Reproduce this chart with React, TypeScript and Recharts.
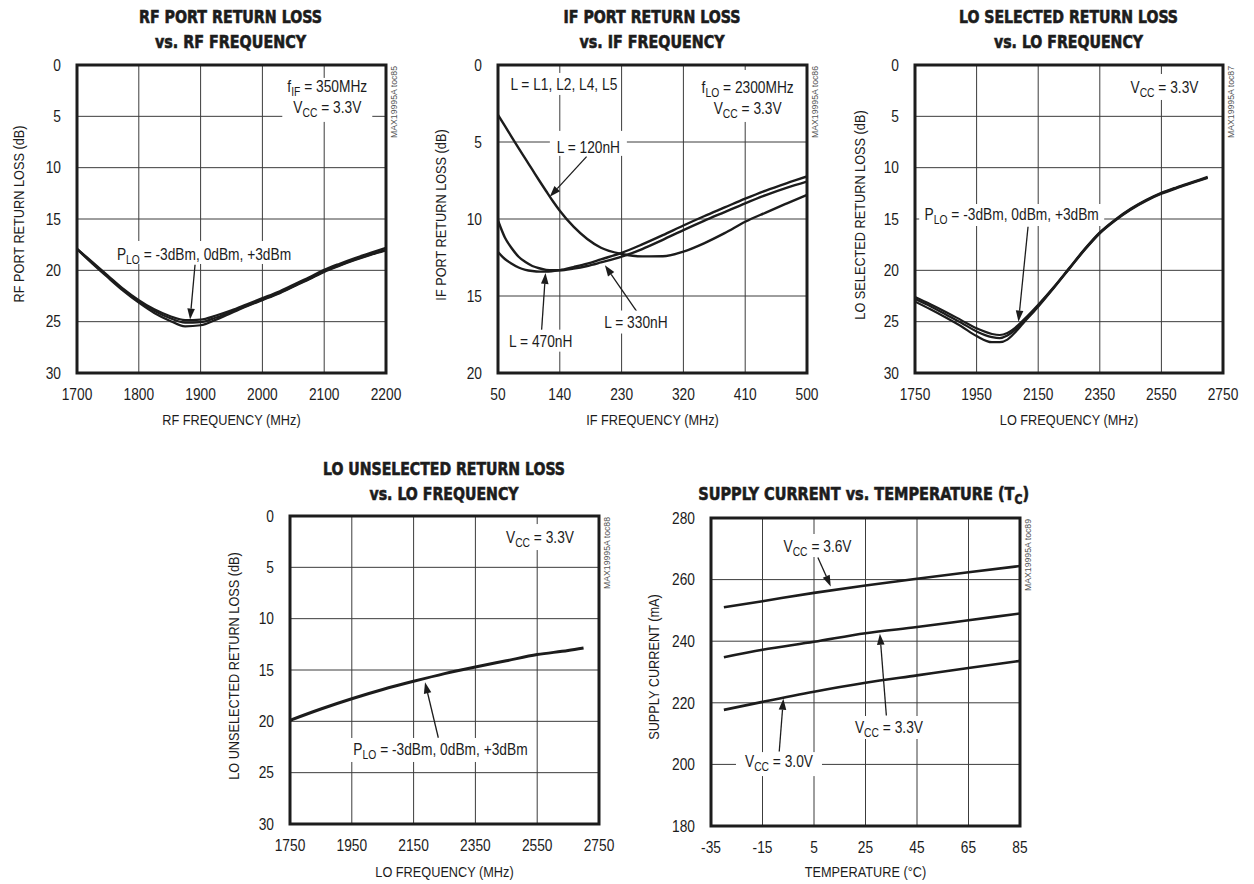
import React from 'react'
import { LineChart, Line, XAxis, YAxis, CartesianGrid, ReferenceArea, ReferenceDot, ReferenceLine } from 'recharts'

const SANS = "'Liberation Sans', Arial, sans-serif"
const HEAVY = "'DejaVu Sans Condensed', 'Liberation Sans', sans-serif"
const SX = 0.86 // horizontal squeeze to get a condensed face
const INK = '#1c1c1c'
const GRID = '#3c3c3c'

// RF port return loss vs RF frequency (three LO drive levels)
const RF_FREQ = [1700, 1725, 1750, 1775, 1800, 1825, 1850, 1875, 1900, 1925, 1950, 1975, 2000, 2025, 2050, 2075, 2100, 2125, 2150, 2175, 2200]
const RF_RL_M3 = [17.9, 19.2, 20.5, 21.8, 22.9, 23.8, 24.45, 24.85, 24.8, 24.4, 23.9, 23.3, 22.7, 22.1, 21.4, 20.7, 19.95, 19.35, 18.8, 18.3, 17.8]
const RF_RL_0 = [17.9, 19.3, 20.6, 21.9, 23.0, 23.95, 24.65, 25.1, 25.05, 24.6, 24.05, 23.45, 22.85, 22.25, 21.55, 20.85, 20.1, 19.5, 18.95, 18.45, 18.0]
const RF_RL_P3 = [17.95, 19.35, 20.7, 22.0, 23.15, 24.15, 24.9, 25.45, 25.35, 24.8, 24.15, 23.5, 22.9, 22.3, 21.6, 20.9, 20.15, 19.55, 19.0, 18.5, 18.05]

// IF port return loss vs IF frequency (three inductor values)
const IF_FREQ = [50, 60, 70, 80, 90, 100, 110, 120, 130, 140, 160, 180, 200, 230, 260, 290, 320, 350, 380, 410, 440, 470, 500]
const IF_RL_120 = [3.24, 3.95, 4.68, 5.4, 6.1, 6.8, 7.5, 8.18, 8.85, 9.47, 10.5, 11.3, 11.87, 12.27, 12.43, 12.42, 12.12, 11.58, 10.92, 10.18, 9.58, 9.0, 8.43]
const IF_RL_330 = [10.1, 11.2, 11.9, 12.45, 12.8, 13.05, 13.2, 13.3, 13.33, 13.33, 13.22, 13.05, 12.82, 12.45, 11.95, 11.35, 10.72, 10.12, 9.55, 8.98, 8.45, 7.98, 7.57]
const IF_RL_470 = [12.15, 12.6, 12.9, 13.15, 13.3, 13.38, 13.42, 13.42, 13.38, 13.32, 13.12, 12.9, 12.62, 12.2, 11.65, 11.05, 10.42, 9.82, 9.25, 8.68, 8.15, 7.68, 7.24]

// LO selected return loss vs LO frequency
const LOS_FREQ = [1750, 1800, 1850, 1900, 1950, 2000, 2025, 2050, 2075, 2100, 2150, 2200, 2250, 2300, 2350, 2400, 2450, 2500, 2550, 2600, 2650, 2700]
const LOS_RL_M3 = [22.6, 23.3, 24.05, 24.85, 25.65, 26.2, 26.3, 26.1, 25.6, 24.9, 23.35, 21.65, 19.8, 17.95, 16.3, 15.05, 14.0, 13.15, 12.45, 11.9, 11.4, 10.9]
const LOS_RL_0 = [22.8, 23.5, 24.3, 25.1, 25.95, 26.5, 26.6, 26.35, 25.8, 25.05, 23.45, 21.7, 19.85, 18.0, 16.35, 15.1, 14.05, 13.2, 12.5, 11.95, 11.45, 10.95]
const LOS_RL_P3 = [23.05, 23.8, 24.6, 25.45, 26.4, 27.0, 27.0, 26.75, 26.05, 25.2, 23.55, 21.75, 19.9, 18.05, 16.4, 15.15, 14.1, 13.25, 12.55, 12.0, 11.5, 11.0]

// LO unselected return loss vs LO frequency
const LOU_FREQ = [1750, 1850, 1950, 2050, 2150, 2250, 2350, 2450, 2550, 2650, 2700]
const LOU_RL = [19.9, 18.8, 17.8, 16.9, 16.1, 15.35, 14.7, 14.1, 13.5, 13.1, 12.85]

// supply current vs case temperature
const TEMP = [-30, -15, 5, 25, 45, 65, 85]
const ICC_36 = [251.0, 253.0, 255.7, 258.1, 260.3, 262.4, 264.4]
const ICC_33 = [234.8, 237.2, 239.8, 242.6, 244.6, 246.8, 249.0]
const ICC_30 = [217.7, 220.3, 223.6, 226.5, 228.9, 231.3, 233.6]

const RL_TICKS_30 = [0, 5, 10, 15, 20, 25, 30]
const RL_TICKS_20 = [0, 5, 10, 15, 20]
const RF_TICKS = [1700, 1800, 1900, 2000, 2100, 2200]
const IF_TICKS = [50, 140, 230, 320, 410, 500]
const LO_TICKS = [1750, 1950, 2150, 2350, 2550, 2750]
const TEMP_TICKS = [-35, -15, 5, 25, 45, 65, 85]
const ICC_TICKS = [180, 200, 220, 240, 260, 280]

type Seg = { t: string; sub?: boolean }
type NoteSpec = { x: number; y: number; w: number; h: number; lines: Seg[][]; base: number[] }
type ArrowSpec = { from: [number, number]; to: [number, number] }
type Series = { xs: number[]; ys: number[]; w: number }
type TitleSpec = { segs: Seg[]; x: number; y: number; len?: number; scale?: number; anchor?: 'start' | 'middle' }

const sub = (a: string, s: string, b: string): Seg[] => [{ t: a }, { t: s, sub: true }, { t: b }]
const plain = (a: string): Seg[] => [{ t: a }]
const pts = (xs: number[], ys: number[]) => xs.map((x, i) => ({ x, y: ys[i] }))

function segSpans(segs: Seg[], size: number) {
  let prevSub = false
  return segs.map((s, i) => {
    const dy = s.sub ? 4 : prevSub ? -4 : 0
    prevSub = !!s.sub
    return (
      <tspan key={i} dy={dy} fontSize={s.sub ? size * 0.75 : size}>
        {s.t}
      </tspan>
    )
  })
}

// condensed text: Liberation Sans squeezed horizontally
function NText({ x, y, size, anchor = 'middle', rotate = 0, fill = INK, children }: any) {
  return (
    <g transform={`translate(${x},${y}) rotate(${rotate}) scale(${SX},1)`}>
      <text x={0} y={0} textAnchor={anchor} fontFamily={SANS} fontSize={size} fill={fill}>
        {children}
      </text>
    </g>
  )
}

function XTick(props: any) {
  const { x, y, payload } = props
  return (
    <NText x={x} y={y + 11.4} size={16}>
      {payload.value}
    </NText>
  )
}

function YTick(props: any) {
  const { x, y, payload } = props
  return (
    <NText x={x} y={y + 5.8} size={16} anchor="end">
      {payload.value}
    </NText>
  )
}

function NoteBox({ cx, cy, note }: { cx: number; cy: number; note: NoteSpec }) {
  return (
    <g>
      <rect x={cx - note.w / 2} y={cy - note.h / 2} width={note.w} height={note.h} fill="#fff" />
      {note.lines.map((segs, i) => (
        <NText key={i} x={cx} y={cy + note.base[i]} size={16}>
          {segSpans(segs, 16)}
        </NText>
      ))}
    </g>
  )
}

function Arrow({ x1, y1, x2, y2 }: { x1: number; y1: number; x2: number; y2: number }) {
  const a = Math.atan2(y2 - y1, x2 - x1)
  const L = 11
  const W = 3.8
  const bx = x2 - L * Math.cos(a)
  const by = y2 - L * Math.sin(a)
  const p1 = `${bx + W * Math.sin(a)},${by - W * Math.cos(a)}`
  const p2 = `${bx - W * Math.sin(a)},${by + W * Math.cos(a)}`
  return (
    <g>
      <line x1={x1} y1={y1} x2={bx} y2={by} stroke={INK} strokeWidth={1.3} />
      <polygon points={`${x2},${y2} ${p1} ${p2}`} fill={INK} />
    </g>
  )
}

function Title({ t }: { t: TitleSpec }) {
  const common = {
    textAnchor: t.anchor ?? 'middle',
    fontFamily: HEAVY,
    fontWeight: 700,
    fontSize: 18,
    fill: INK,
    stroke: INK,
    strokeWidth: 0.6,
  } as const
  if (t.scale) {
    return (
      <g transform={`translate(${t.x},${t.y}) scale(${t.scale},1)`}>
        <text x={0} y={0} {...common}>
          {segSpans(t.segs, 18)}
        </text>
      </g>
    )
  }
  return (
    <text x={t.x} y={t.y} {...common} textLength={t.len} lengthAdjust="spacingAndGlyphs">
      {t.segs.map((s) => s.t).join('')}
    </text>
  )
}

type PanelSpec = {
  left: number
  top: number
  width: number
  height: number
  plot: { top: number; right: number; bottom: number; left: number }
  xDomain: [number, number]
  xTicks: number[]
  yDomain: [number, number]
  yTicks: number[]
  reversed: boolean
  series: Series[]
  notes: NoteSpec[]
  arrows: ArrowSpec[]
  titles: TitleSpec[]
  yLabel: string
  yLabelX: number
  yLabelY: number
  xLabel: string
  xLabelY: number
  code: string
}

function Panel({ p }: { p: PanelSpec }) {
  const { plot } = p
  const right = p.width - plot.right
  const midX = (plot.left + right) / 2
  const xAxisH = 36
  return (
    <div style={{ position: 'absolute', left: p.left, top: p.top }}>
      <LineChart
        width={p.width}
        height={p.height}
        margin={{ top: plot.top, right: plot.right, bottom: plot.bottom - xAxisH, left: 0 }}
      >
        <CartesianGrid stroke={GRID} strokeWidth={1} />
        <XAxis
          type="number"
          dataKey="x"
          domain={p.xDomain}
          ticks={p.xTicks}
          interval={0}
          height={xAxisH}
          tickLine={false}
          axisLine={false}
          tickSize={0}
          tickMargin={16}
          allowDataOverflow
          tick={<XTick />}
        />
        <YAxis
          type="number"
          domain={p.yDomain}
          ticks={p.yTicks}
          reversed={p.reversed}
          interval={0}
          width={plot.left}
          tickLine={false}
          axisLine={false}
          tickSize={0}
          tickMargin={16}
          allowDataOverflow
          tick={<YTick />}
        />
        {p.series.map((s, i) => (
          <Line
            key={i}
            data={pts(s.xs, s.ys)}
            dataKey="y"
            type="monotone"
            stroke={INK}
            strokeWidth={s.w}
            dot={false}
            activeDot={false}
            isAnimationActive={false}
          />
        ))}
        <ReferenceArea
          x1={p.xDomain[0]}
          x2={p.xDomain[1]}
          y1={p.yDomain[0]}
          y2={p.yDomain[1]}
          fill="none"
          stroke={INK}
          strokeWidth={3}
          ifOverflow="visible"
        />
        {p.notes.map((n, i) => (
          <ReferenceDot
            key={'n' + i}
            x={n.x}
            y={n.y}
            r={0}
            ifOverflow="visible"
            shape={(d: any) => <NoteBox cx={d.cx} cy={d.cy} note={n} />}
          />
        ))}
        {p.arrows.map((a, i) => (
          <ReferenceLine
            key={'a' + i}
            segment={[
              { x: a.from[0], y: a.from[1] },
              { x: a.to[0], y: a.to[1] },
            ]}
            ifOverflow="visible"
            shape={(d: any) => <Arrow x1={d.x1} y1={d.y1} x2={d.x2} y2={d.y2} />}
          />
        ))}
        {p.titles.map((t, i) => (
          <Title key={'t' + i} t={t} />
        ))}
        <NText x={p.yLabelX} y={p.yLabelY} size={14.8} rotate={-90}>
          {p.yLabel}
        </NText>
        <NText x={midX} y={p.xLabelY} size={14.8}>
          {p.xLabel}
        </NText>
        <text
          transform={`translate(${right + 11},${plot.top + 1}) rotate(-90)`}
          textAnchor="end"
          fontFamily={SANS}
          fontSize={9}
          fill="#555"
          textLength={72}
          lengthAdjust="spacingAndGlyphs"
        >
          {p.code}
        </text>
      </LineChart>
    </div>
  )
}

const PLO = sub('P', 'LO', ' = -3dBm, 0dBm, +3dBm')
const VCC33 = sub('V', 'CC', ' = 3.3V')

const PANELS: PanelSpec[] = [
  {
    left: 0,
    top: 0,
    width: 420,
    height: 440,
    plot: { top: 65, right: 34, bottom: 67, left: 77 },
    xDomain: [1700, 2200],
    xTicks: RF_TICKS,
    yDomain: [0, 30],
    yTicks: RL_TICKS_30,
    reversed: true,
    series: [
      { xs: RF_FREQ, ys: RF_RL_M3, w: 2.2 },
      { xs: RF_FREQ, ys: RF_RL_0, w: 2.2 },
      { xs: RF_FREQ, ys: RF_RL_P3, w: 2.2 },
    ],
    notes: [
      { x: 2105, y: 3.4, w: 90, h: 44, lines: [sub('f', 'IF', ' = 350MHz'), VCC33], base: [-8, 13] },
      { x: 1905.5, y: 18.26, w: 182, h: 23, lines: [PLO], base: [7.5] },
    ],
    arrows: [{ from: [1891, 19.45], to: [1883, 24.8] }],
    titles: [
      { segs: plain('RF PORT RETURN LOSS'), x: 230.5, y: 23, len: 183 },
      { segs: plain('vs. RF FREQUENCY'), x: 230.5, y: 48, len: 151 },
    ],
    yLabel: 'RF PORT RETURN LOSS (dB)',
    yLabelX: 24,
    yLabelY: 214,
    xLabel: 'RF FREQUENCY (MHz)',
    xLabelY: 425,
    code: 'MAX19995A toc85',
  },
  {
    left: 420,
    top: 0,
    width: 420,
    height: 440,
    plot: { top: 65, right: 33, bottom: 67, left: 78 },
    xDomain: [50, 500],
    xTicks: IF_TICKS,
    yDomain: [0, 20],
    yTicks: RL_TICKS_20,
    reversed: true,
    series: [
      { xs: IF_FREQ, ys: IF_RL_120, w: 2.4 },
      { xs: IF_FREQ, ys: IF_RL_330, w: 2.4 },
      { xs: IF_FREQ, ys: IF_RL_470, w: 2.4 },
    ],
    notes: [
      { x: 145.9, y: 1.23, w: 112, h: 22, lines: [plain('L = L1, L2, L4, L5')], base: [6] },
      { x: 413.6, y: 2.01, w: 101, h: 52, lines: [sub('f', 'LO', ' = 2300MHz'), VCC33], base: [-3, 18] },
      { x: 181.6, y: 5.09, w: 77, h: 25, lines: [plain('L = 120nH')], base: [10] },
      { x: 112.3, y: 17.9, w: 70, h: 22, lines: [plain('L = 470nH')], base: [6] },
      { x: 250.9, y: 16.69, w: 70, h: 23, lines: [plain('L = 330nH')], base: [6] },
    ],
    arrows: [
      { from: [179, 5.95], to: [125.4, 8.55] },
      { from: [113.3, 17.35], to: [119.2, 13.5] },
      { from: [252, 16.0], to: [205.7, 13.0] },
    ],
    titles: [
      { segs: plain('IF PORT RETURN LOSS'), x: 232, y: 23, len: 177 },
      { segs: plain('vs. IF FREQUENCY'), x: 232, y: 48, len: 145 },
    ],
    yLabel: 'IF PORT RETURN LOSS (dB)',
    yLabelX: 26,
    yLabelY: 215,
    xLabel: 'IF FREQUENCY (MHz)',
    xLabelY: 425,
    code: 'MAX19995A toc86',
  },
  {
    left: 834,
    top: 0,
    width: 420,
    height: 440,
    plot: { top: 65, right: 31, bottom: 67, left: 81 },
    xDomain: [1750, 2750],
    xTicks: LO_TICKS,
    yDomain: [0, 30],
    yTicks: RL_TICKS_30,
    reversed: true,
    series: [
      { xs: LOS_FREQ, ys: LOS_RL_M3, w: 2.2 },
      { xs: LOS_FREQ, ys: LOS_RL_0, w: 2.2 },
      { xs: LOS_FREQ, ys: LOS_RL_P3, w: 2.2 },
    ],
    notes: [
      { x: 2560, y: 2.14, w: 77, h: 26, lines: [VCC33], base: [6] },
      { x: 2064, y: 14.61, w: 185, h: 22, lines: [PLO], base: [5] },
    ],
    arrows: [{ from: [2117, 15.75], to: [2086, 25.0] }],
    titles: [
      { segs: plain('LO SELECTED RETURN LOSS'), x: 234.5, y: 23, len: 219 },
      { segs: plain('vs. LO FREQUENCY'), x: 234.5, y: 48, len: 149 },
    ],
    yLabel: 'LO SELECTED RETURN LOSS (dB)',
    yLabelX: 31,
    yLabelY: 215,
    xLabel: 'LO FREQUENCY (MHz)',
    xLabelY: 425,
    code: 'MAX19995A toc87',
  },
  {
    left: 200,
    top: 440,
    width: 420,
    height: 444,
    plot: { top: 76, right: 21, bottom: 60, left: 90 },
    xDomain: [1750, 2750],
    xTicks: LO_TICKS,
    yDomain: [0, 30],
    yTicks: RL_TICKS_30,
    reversed: true,
    series: [{ xs: LOU_FREQ, ys: LOU_RL, w: 3 }],
    notes: [
      { x: 2559, y: 2.05, w: 76, h: 26, lines: [VCC33], base: [6] },
      { x: 2237, y: 22.79, w: 181, h: 24, lines: [PLO], base: [5] },
    ],
    arrows: [{ from: [2230, 21.6], to: [2187, 16.2] }],
    titles: [
      { segs: plain('LO UNSELECTED RETURN LOSS'), x: 244, y: 35, len: 242 },
      { segs: plain('vs. LO FREQUENCY'), x: 244, y: 60, len: 149 },
    ],
    yLabel: 'LO UNSELECTED RETURN LOSS (dB)',
    yLabelX: 39,
    yLabelY: 226,
    xLabel: 'LO FREQUENCY (MHz)',
    xLabelY: 437,
    code: 'MAX19995A toc88',
  },
  {
    left: 620,
    top: 440,
    width: 440,
    height: 444,
    plot: { top: 78, right: 40, bottom: 58, left: 91 },
    xDomain: [-35, 85],
    xTicks: TEMP_TICKS,
    yDomain: [180, 280],
    yTicks: ICC_TICKS,
    reversed: false,
    series: [
      { xs: TEMP, ys: ICC_36, w: 2.6 },
      { xs: TEMP, ys: ICC_33, w: 2.6 },
      { xs: TEMP, ys: ICC_30, w: 2.6 },
    ],
    notes: [
      { x: 6.36, y: 271.07, w: 75, h: 23, lines: [sub('V', 'CC', ' = 3.6V')], base: [6] },
      { x: 34.1, y: 211.98, w: 74, h: 23, lines: [VCC33], base: [5.5] },
      { x: -8.6, y: 200.1, w: 86, h: 24, lines: [sub('V', 'CC', ' = 3.0V')], base: [2.5] },
    ],
    arrows: [
      { from: [6.5, 267.2], to: [11.5, 257.8] },
      { from: [33.1, 215.9], to: [30.6, 242.4] },
      { from: [-8.5, 204.2], to: [-6.9, 221.3] },
    ],
    titles: [{ segs: sub('SUPPLY CURRENT vs. TEMPERATURE (T', 'C', ')'), x: 78.3, y: 60, scale: 0.895, anchor: 'start' }],
    yLabel: 'SUPPLY CURRENT (mA)',
    yLabelX: 39,
    yLabelY: 227,
    xLabel: 'TEMPERATURE (°C)',
    xLabelY: 437,
    code: 'MAX19995A toc89',
  },
]

export default function App() {
  return (
    <div style={{ position: 'absolute', left: 0, top: 0, width: 1254, height: 884, background: '#fff', overflow: 'hidden' }}>
      {PANELS.map((p, i) => (
        <Panel key={i} p={p} />
      ))}
    </div>
  )
}
